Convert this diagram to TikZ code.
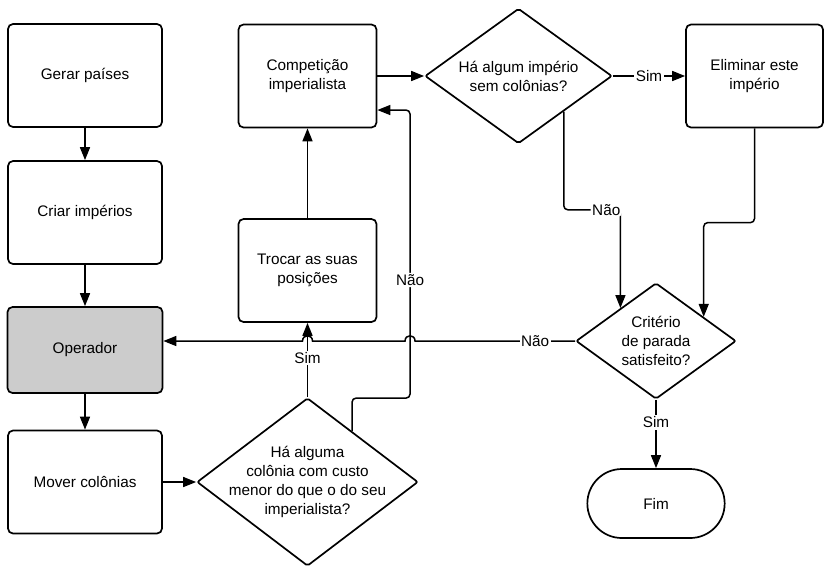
\documentclass[tikz,border=0pt]{standalone}
\usepackage{fontspec}
\setmainfont{Liberation Sans}
\usetikzlibrary{arrows.meta,shapes.geometric,shapes.misc,calc}
\definecolor{opgray}{RGB}{204,204,204}

\begin{document}
\begin{tikzpicture}[x=1pt,y=-1pt,
    font=\fontsize{15.3}{19}\selectfont,
    proc/.style={draw,line width=1.7pt,rounded corners=5pt,align=center,
      minimum width=154pt,minimum height=103pt,inner sep=2pt},
    dec/.style={draw,diamond,line width=1.7pt,rounded corners=2pt,align=center,
      aspect=1.35,inner sep=-12pt},
    term/.style={draw,rounded rectangle,line width=1.7pt,
      minimum width=144pt,minimum height=69pt},
    flow/.style={line width=1.5pt,-{Triangle[length=13pt,width=10pt]}},
    lbl/.style={fill=white,inner sep=1.5pt}]
  \path[use as bounding box,fill=white] (0,0) rectangle (826,566);

  \node[proc] (gen) at (85,75.5) {Gerar países};
  \node[proc] (cri) at (85,212.5) {Criar impérios};
  \node[proc,fill=opgray,minimum width=155pt,minimum height=86pt] (op) at (85,350) {Operador};
  \node[proc] (mov) at (85,482) {Mover colônias};
  \node[proc,minimum width=138pt] (comp) at (307.5,76) {Competição\\imperialista};
  \node[proc,minimum width=138pt] (troc) at (307.5,270.5) {Trocar as suas\\posições};
  \node[dec,minimum width=187pt,minimum height=135pt] (hai) at (518.5,76) {Há algum império\\sem colônias?};
  \node[proc,minimum width=137pt] (elim) at (754.5,76) {Eliminar este\\império};
  \node[dec,minimum width=160pt,minimum height=116pt] (crit) at (656,341) {Critério\\de parada\\satisfeito?};
  \node[term] (fim) at (656,503.5) {Fim};
  \node[dec,minimum width=221pt,minimum height=168pt] (chk) at (307.5,482) {Há alguma\\colônia com custo\\menor do que o do seu\\imperialista?};

  \draw[flow] (gen) -- (cri);
  \draw[flow] (cri) -- (op);
  \draw[flow] (op) -- (mov);
  \draw[flow] (mov) -- (chk);
  \draw[flow] (chk.north) -- node[lbl,pos=.53] {Sim} (troc.south);
  \draw[flow] (troc) -- (comp);
  \draw[flow] (comp) -- (hai);
  \draw[flow] (hai.east) -- node[lbl] {Sim} (elim.west);
  \draw[flow] (crit.south) -- node[lbl,pos=.33] {Sim} (fim.north);

  \coordinate (hs) at ($(hai.south)!.48!(hai.east)$);
  \coordinate (ct) at ($(crit.west)!.56!(crit.north)$);
  \draw[flow,rounded corners=4pt] (hs) |- ($(hs)!.5!(ct)$) -| node[lbl,pos=.25] {Não} (ct);

  \coordinate (cn) at ($(crit.north)!.59!(crit.east)$);
  \draw[flow,rounded corners=4pt] (elim.south) |- ($(elim.south)!.5!(cn)$) -| (cn);

  \coordinate (back) at ($(chk.north)!.4!(chk.east)$);
  \coordinate (rise) at ($(back)+(58,-33)$);
  \draw[flow,rounded corners=4pt] (back) |- (rise) |- node[lbl,pos=.205] {Não} ($(comp.east)!.65!(comp.south east)$);

  \coordinate (x1) at (rise |- crit.west);
  \coordinate (x2) at (chk.north |- crit.west);
  \draw[flow] (crit.west) -- node[lbl,pos=.25] {Não} ($(x1)+(5,0)$)
    .. controls ($(x1)+(5,-7)$) and ($(x1)+(-5,-7)$) .. ($(x1)+(-5,0)$)
    -- ($(x2)+(5,0)$)
    .. controls ($(x2)+(5,-7)$) and ($(x2)+(-5,-7)$) .. ($(x2)+(-5,0)$)
    -- (crit.west -| op.east);
\end{tikzpicture}
\end{document}
